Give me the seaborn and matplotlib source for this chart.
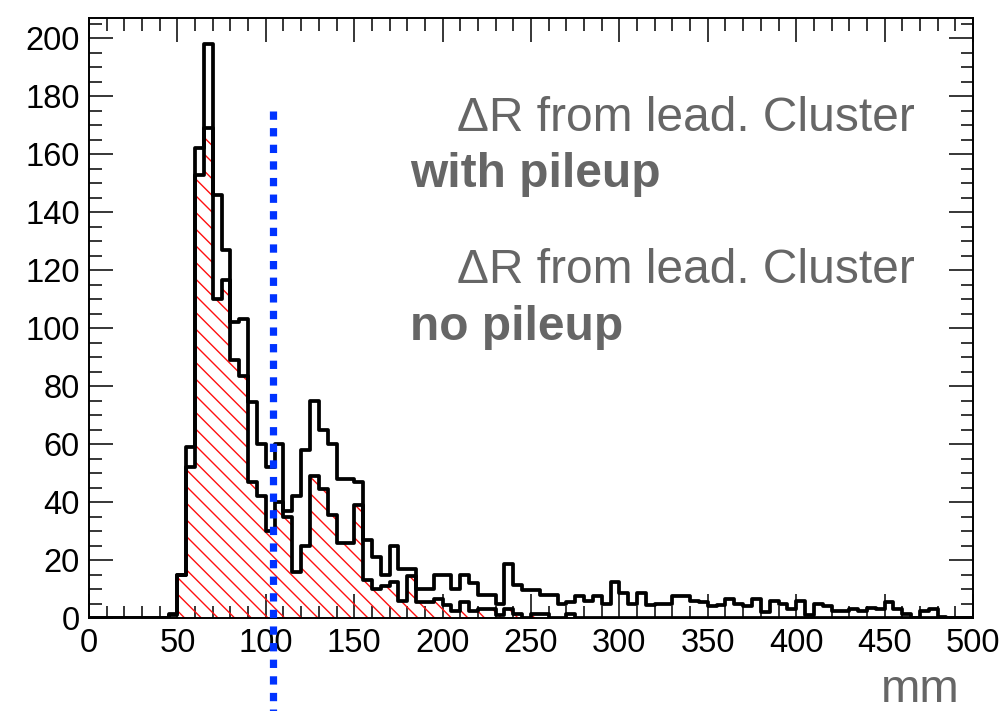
import numpy as np
import pandas as pd
import matplotlib
matplotlib.use("Agg")
import matplotlib.pyplot as plt
from matplotlib.ticker import MultipleLocator
import seaborn as sns

# ---- data (bin width 5 mm, 0..500 mm) ----
bin_edges = list(range(0, 505, 5))

with_pileup = [
    0, 0, 0, 0, 0, 0, 0, 0, 0, 1.5,            # 0-50
    15, 59, 162, 198, 146, 127, 102, 103, 74.5, 60,   # 50-100
    52, 60, 37, 42, 58, 75, 65, 60, 48, 48,    # 100-150
    47, 27, 21, 15, 25, 17, 17, 10, 10, 15,    # 150-200
    15, 10, 15, 12, 8, 8, 5, 18.5, 11.5, 9.5,  # 200-250
    9.5, 8, 8, 5, 5.5, 7.5, 6, 7.5, 5, 12.5,   # 250-300
    8.5, 5, 8.5, 4.5, 5, 5, 7.5, 7.5, 6, 5.5,  # 300-350
    4, 4.5, 6.5, 5, 4, 6.5, 2, 6, 5, 3,        # 350-400
    6, 1, 5, 4, 2.5, 2.5, 3, 2.5, 3.5, 3,      # 400-450
    5.5, 3, 1.5, 0, 2.5, 3, 0.5, 0, 0, 0,      # 450-500
]

no_pileup = [
    0, 0, 0, 0, 0, 0, 0, 0, 0, 1,              # 0-50
    15, 52, 153, 169, 110, 116.5, 89, 83.5, 47, 42,   # 50-100
    30, 40, 35, 16, 25, 49, 44.5, 35.5, 26, 26,  # 100-150
    39, 13, 10, 11, 12.5, 6, 14.5, 5.5, 5.5, 6.5,  # 150-200
    4.5, 2.5, 5.5, 2.5, 3, 3, 1, 3, 1.5, 0,    # 200-250
    1.5, 1.5, 0, 0, 1.5, 0, 0, 0, 0, 0,        # 250-300
    0, 0, 0, 0, 0, 0, 0, 0, 0, 0,              # 300-350
    0, 0, 0, 0, 0, 0, 0, 0, 0, 0,              # 350-400
    0, 0, 0, 0, 0, 0, 0, 0, 0, 0,              # 400-450
    0, 0, 0, 0, 0, 0, 0, 0, 0, 0,              # 450-500
]

cut_value = 104          # position of the dotted cut line (mm)
cut_line_top = 175       # upper end of the cut line (counts)

legend_title = "ΔR from lead. Cluster"
label_with = "with pileup"
label_no = "no pileup"
x_title = "mm"

# ---- style ----
sns.set_style("ticks")
plt.rcParams["font.family"] = ["Liberation Sans", "DejaVu Sans"]
plt.rcParams["hatch.linewidth"] = 1.0

centers = [e + 2.5 for e in bin_edges[:-1]]
df = pd.DataFrame({"mm": centers, "with": with_pileup, "no": no_pileup})

fig = plt.figure(figsize=(10.07, 7.11), dpi=100)
ax = fig.add_axes([89 / 1007, 1 - 618 / 711, (973 - 89) / 1007, (618 - 18) / 711])

# red hatched fill (no pileup)
sns.histplot(data=df, x="mm", weights="no", bins=bin_edges, element="step", fill=True,
             color="#ff1010", ax=ax)
fill_coll = ax.collections[-1]
fill_coll.set_facecolor("none")
fill_coll.set_edgecolor("#ff1010")
fill_coll.set_linewidth(0)
fill_coll.set_hatch("\\\\")

# outline of no-pileup histogram
sns.histplot(data=df, x="mm", weights="no", bins=bin_edges, element="step", fill=False,
             color="black", linewidth=2.7, ax=ax)
# with pileup histogram outline
sns.histplot(data=df, x="mm", weights="with", bins=bin_edges, element="step", fill=False,
             color="black", linewidth=2.7, ax=ax)

# dotted cut line (extends beyond the frame)
ax.plot([cut_value, cut_value], [cut_line_top, -60], color="#0033ff", linewidth=5.2,
        linestyle=(0, (1.15, 1.15)), dash_capstyle="butt", clip_on=False, zorder=5)

ax.set_xlim(0, 500)
ax.set_ylim(0, 207)
ax.set_ylabel("")

ax.xaxis.set_major_locator(MultipleLocator(50))
ax.xaxis.set_minor_locator(MultipleLocator(10))
ax.yaxis.set_major_locator(MultipleLocator(20))
ax.yaxis.set_minor_locator(MultipleLocator(5))
ax.tick_params(which="both", direction="in", top=True, right=True, width=1.1,
               color="black", labelcolor="black")
ax.tick_params(which="major", length=17)
ax.tick_params(which="minor", length=9)
ax.tick_params(axis="y", which="major", labelsize=23.5, pad=6.5)
ax.tick_params(axis="x", which="major", labelsize=23.5, pad=7)
for sp in ax.spines.values():
    sp.set_linewidth(1.4)
    sp.set_color("black")
    sp.set_visible(True)

ax.set_xlabel(x_title, fontsize=34, color="#666666", va="baseline", ha="right")
ax.xaxis.set_label_coords((960 - 89) / 884, -(702 - 618) / 600)

# legend-like texts
gray = "#666666"
fs = 34.5
ax.text(467, 168, legend_title, ha="right", va="baseline", fontsize=fs, color=gray)
ax.text(181.5, 148.6, label_with, ha="left", va="baseline", fontsize=fs, color=gray,
        fontweight="bold")
ax.text(467, 115.5, legend_title, ha="right", va="baseline", fontsize=fs, color=gray)
ax.text(181.5, 95.9, label_no, ha="left", va="baseline", fontsize=fs, color=gray,
        fontweight="bold")

fig.savefig("out.png", dpi=100)
